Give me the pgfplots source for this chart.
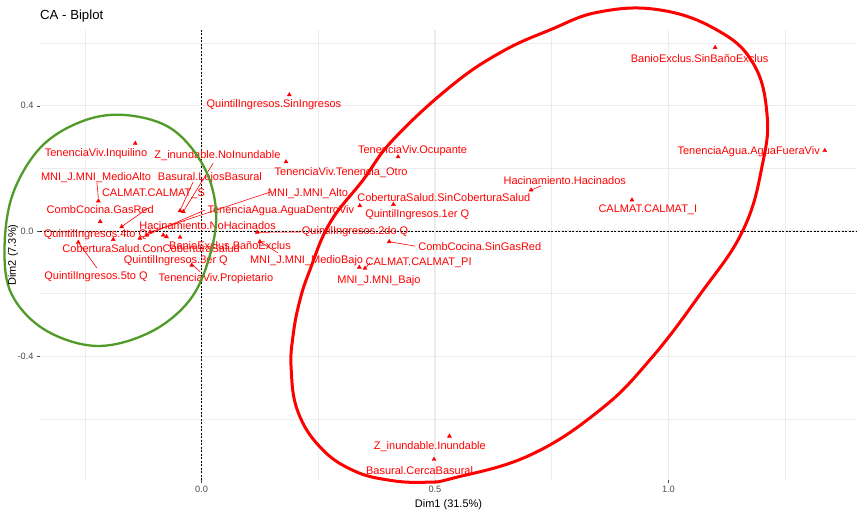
\documentclass[border=0pt]{standalone}
\usepackage{fontspec}
\setmainfont{Liberation Sans}
\usepackage{pgfplots}
\pgfplotsset{compat=1.18}
\definecolor{gridc}{RGB}{236,236,236}
\definecolor{ellgreen}{RGB}{80,155,40}
\definecolor{tickc}{RGB}{77,77,77}
\tikzset{
  lbl/.style={text=red, font=\fontsize{11}{12}\selectfont, inner sep=0pt},
  seg/.style={red, line width=0.6pt},
}
\begin{document}
\begin{tikzpicture}[x=1pt,y=1pt]
\useasboundingbox (0,0) rectangle (859,512);
\begin{axis}[
  at={(40pt,32pt)}, anchor=south west,
  scale only axis, width=817pt, height=450pt,
  xmin=-0.346, xmax=1.404, ymin=-0.795, ymax=0.642,
  axis line style={draw=none},
  xtick={0,0.5,1.0}, ytick={-0.4,0,0.4},
  xticklabels={0.0,0.5,1.0}, yticklabels={-0.4,0.0,0.4},
  minor xtick={-0.25,0.25,0.75,1.25}, minor ytick={-0.6,-0.2,0.2,0.6},
  grid=both,
  major grid style={gridc, line width=1.1pt},
  minor grid style={gridc, line width=0.55pt},
  xtick pos=lower, ytick pos=left,
  tick style={tickc, line width=0.5pt},
  tick align=outside, major tick length=3pt, minor tick length=0pt,
  ticklabel style={font=\fontsize{9.2}{10}\selectfont, text=tickc},
  xlabel={Dim1 (31.5\%)}, ylabel={Dim2 (7.3\%)},
  label style={font=\fontsize{11}{12}\selectfont},
  ylabel style={at={(axis description cs:-0.033,0.5)}, anchor=center},
  clip=false,
]
% zero reference lines
\draw[black, line width=0.7pt, dash pattern=on 2pt off 1.5pt] (axis cs:0,-0.795) -- (axis cs:0,0.642);
\draw[black, line width=0.7pt, dash pattern=on 2pt off 1.5pt] (axis cs:-0.346,0) -- (axis cs:1.404,0);

% category points
\addplot[only marks, mark=triangle*, mark size=2.3pt, red] coordinates {
(1.100,0.586) (1.335,0.257) (0.922,0.099) (0.706,0.131) (0.421,0.237)
(0.181,0.221) (0.188,0.435) (0.339,0.081) (0.411,0.085) (0.119,-0.004)
(0.402,-0.034) (0.350,-0.119) (0.338,-0.116) (0.125,-0.034) (-0.110,-0.003)
(-0.117,-0.013) (-0.082,-0.013) (-0.075,-0.018) (-0.046,-0.020) (-0.021,-0.109)
(-0.039,0.062) (-0.046,0.065) (-0.142,0.280) (-0.221,0.096) (-0.217,0.030)
(-0.171,0.014) (-0.189,-0.027) (-0.132,-0.023) (-0.264,-0.036) (0.531,-0.655)
(0.498,-0.729)
};

% connector segments
\draw[seg] (axis cs:0.706,0.131) -- (axis cs:0.727,0.144);
\draw[seg] (axis cs:0.119,-0.004) -- (axis cs:0.211,-0.003);
\draw[seg] (axis cs:0.402,-0.034) -- (axis cs:0.457,-0.048);
\draw[seg] (axis cs:0.350,-0.119) -- (axis cs:0.361,-0.102);
\draw[seg] (axis cs:0.125,-0.034) -- (axis cs:0.164,-0.070);
\draw[seg] (axis cs:0.150,0.126) -- (axis cs:-0.110,-0.003);
\draw[seg] (axis cs:0.007,0.067) -- (axis cs:-0.117,-0.013);
\draw[seg] (axis cs:0.025,0.217) -- (axis cs:-0.039,0.062);
\draw[seg] (axis cs:-0.018,0.157) -- (axis cs:-0.046,0.065);
\draw[seg] (axis cs:-0.224,0.153) -- (axis cs:-0.221,0.105);
\draw[seg] (axis cs:-0.115,0.073) -- (axis cs:-0.171,0.014);
\draw[seg] (axis cs:-0.264,-0.036) -- (axis cs:-0.224,-0.118);
\draw[seg] (axis cs:-0.018,-0.109) -- (axis cs:-0.003,-0.130);

% labels
\node[lbl] at (axis cs:1.067,0.550) {BanioExclus.SinBañoExclus};
\node[lbl] at (axis cs:1.172,0.252) {TenenciaAgua.AguaFueraViv};
\node[lbl] at (axis cs:0.956,0.067) {CALMAT.CALMAT\_I};
\node[lbl] at (axis cs:0.778,0.160) {Hacinamiento.Hacinados};
\node[lbl] at (axis cs:0.452,0.256) {TenenciaViv.Ocupante};
\node[lbl] at (axis cs:0.299,0.188) {TenenciaViv.Tenencia\_Otro};
\node[lbl] at (axis cs:0.155,0.403) {QuintilIngresos.SinIngresos};
\node[lbl] at (axis cs:0.519,0.106) {CoberturaSalud.SinCoberturaSalud};
\node[lbl] at (axis cs:0.462,0.051) {QuintilIngresos.1er Q};
\node[lbl] at (axis cs:0.329,-0.002) {QuintilIngresos.2do Q};
\node[lbl] at (axis cs:0.596,-0.050) {CombCocina.SinGasRed};
\node[lbl] at (axis cs:0.465,-0.101) {CALMAT.CALMAT\_PI};
\node[lbl] at (axis cs:0.380,-0.157) {MNI\_J.MNI\_Bajo};
\node[lbl] at (axis cs:0.225,-0.096) {MNI\_J.MNI\_MedioBajo};
\node[lbl] at (axis cs:0.228,0.118) {MNI\_J.MNI\_Alto};
\node[lbl] at (axis cs:0.170,0.065) {TenenciaAgua.AguaDentroViv};
\node[lbl] at (axis cs:0.013,0.016) {Hacinamiento.NoHacinados};
\node[lbl] at (axis cs:-0.055,-0.095) {QuintilIngresos.3er Q};
\node[lbl] at (axis cs:0.061,-0.045) {BanioExclus.BañoExclus};
\node[lbl] at (axis cs:0.031,-0.151) {TenenciaViv.Propietario};
\node[lbl] at (axis cs:0.034,0.240) {Z\_inundable.NoInundable};
\node[lbl] at (axis cs:0.018,0.172) {Basural.LejosBasural};
\node[lbl] at (axis cs:-0.226,0.246) {TenenciaViv.Inquilino};
\node[lbl] at (axis cs:-0.226,0.172) {MNI\_J.MNI\_MedioAlto};
\node[lbl] at (axis cs:-0.217,0.067) {CombCocina.GasRed};
\node[lbl] at (axis cs:-0.103,0.118) {CALMAT.CALMAT\_S};
\node[lbl] at (axis cs:-0.227,-0.011) {QuintilIngresos.4to Q};
\node[lbl] at (axis cs:-0.108,-0.055) {CoberturaSalud.ConCoberturaSalud};
\node[lbl] at (axis cs:-0.226,-0.146) {QuintilIngresos.5to Q};
\node[lbl] at (axis cs:0.489,-0.689) {Z\_inundable.Inundable};
\node[lbl] at (axis cs:0.467,-0.764) {Basural.CercaBasural};

% annotation ellipses
\draw[ellgreen, line width=2.3pt] plot[smooth cycle, tension=0.6] coordinates {
(axis cs:-0.168,0.371) (axis cs:-0.067,0.329) (axis cs:0.003,0.211) (axis cs:0.031,0.067)
(axis cs:0.018,-0.077) (axis cs:-0.025,-0.220) (axis cs:-0.110,-0.323) (axis cs:-0.224,-0.367)
(axis cs:-0.335,-0.316) (axis cs:-0.406,-0.204) (axis cs:-0.422,-0.061) (axis cs:-0.405,0.115)
(axis cs:-0.346,0.265) (axis cs:-0.260,0.348)
};
\draw[red, line width=3pt] plot[smooth cycle, tension=0.7] coordinates {
(axis cs:0.746,0.642) (axis cs:0.639,0.569) (axis cs:0.532,0.460) (axis cs:0.410,0.291)
(axis cs:0.346,0.163) (axis cs:0.275,0.026) (axis cs:0.232,-0.125) (axis cs:0.210,-0.225)
(axis cs:0.196,-0.335) (axis cs:0.192,-0.440) (axis cs:0.206,-0.575) (axis cs:0.254,-0.690)
(axis cs:0.324,-0.764) (axis cs:0.404,-0.796) (axis cs:0.483,-0.802) (axis cs:0.539,-0.789)
(axis cs:0.703,-0.716) (axis cs:0.853,-0.572) (axis cs:0.960,-0.412) (axis cs:1.067,-0.204)
(axis cs:1.160,0.003) (axis cs:1.202,0.217) (axis cs:1.211,0.377) (axis cs:1.181,0.537)
(axis cs:1.104,0.642) (axis cs:0.982,0.706) (axis cs:0.853,0.700)
};
\end{axis}
\node[anchor=west, inner sep=0pt, font=\fontsize{13.2}{14}\selectfont] at (40,496) {CA - Biplot};
\end{tikzpicture}
\end{document}
